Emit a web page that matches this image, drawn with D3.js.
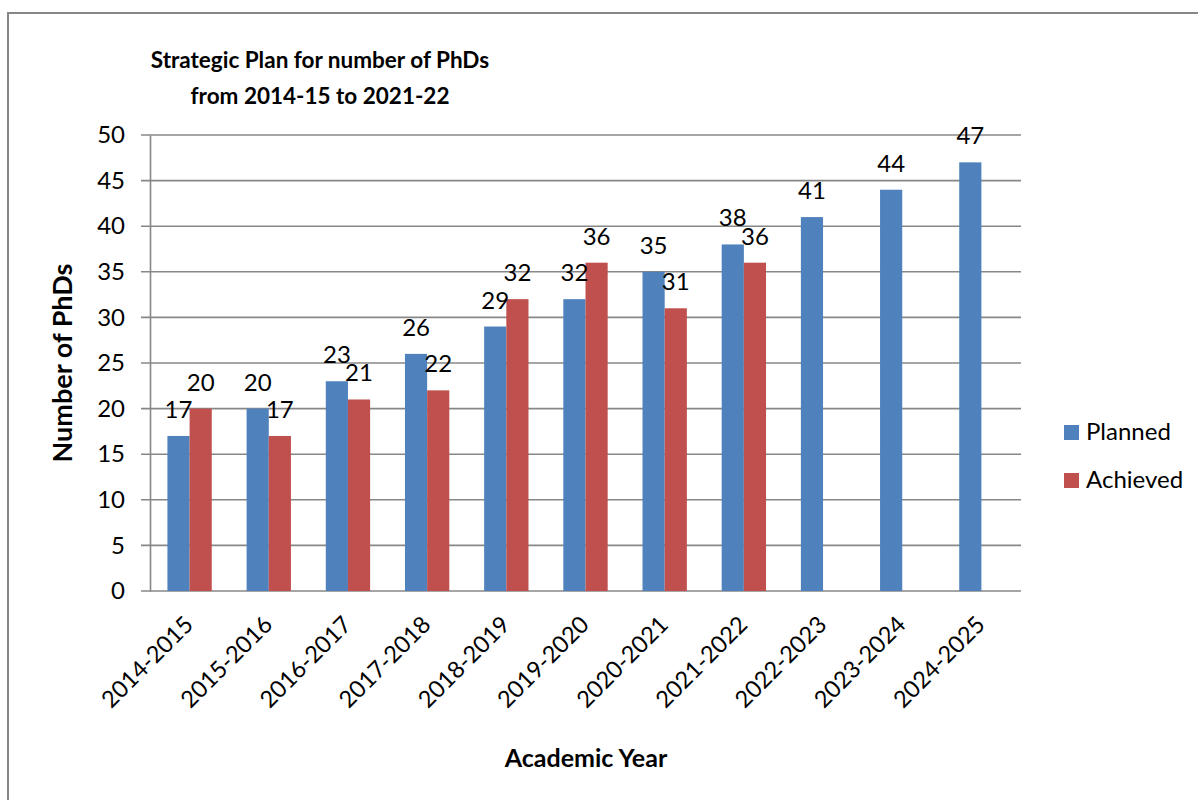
<!DOCTYPE html>
<html>
<head>
<meta charset="utf-8">
<script src="https://cdn.jsdelivr.net/npm/d3@7"></script>
<style>
  html, body { margin: 0; padding: 0; background: #fff; }
  svg { display: block; }
  text { font-family: Lato, "Open Sans", sans-serif; fill: #000; }
</style>
</head>
<body>
<svg id="chart" width="1198" height="800"></svg>
<script>
const categories = ["2014-2015","2015-2016","2016-2017","2017-2018","2018-2019","2019-2020","2020-2021","2021-2022","2022-2023","2023-2024","2024-2025"];
const planned = [17, 20, 23, 26, 29, 32, 35, 38, 41, 44, 47];
const achieved = [20, 17, 21, 22, 32, 36, 31, 36, null, null, null];
const seriesNames = ["Planned", "Achieved"];
const seriesColors = ["#4F81BD", "#C0504D"];
const yTicks = [0, 5, 10, 15, 20, 25, 30, 35, 40, 45, 50];
const titleLines = ["Strategic Plan for number of PhDs", "from 2014-15 to 2021-22"];
const xTitle = "Academic Year";
const yTitle = "Number of PhDs";

const svg = d3.select("#chart");
const gridColor = "#878787";

// outer border
svg.append("rect").attr("x", 8).attr("y", 13).attr("width", 1300).attr("height", 900)
  .attr("fill", "none").attr("stroke", gridColor).attr("stroke-width", 2);

const plotLeft = 150, plotRight = 1021, plotTop = 135, plotBottom = 591;

const x0 = d3.scaleBand().domain(categories).range([plotLeft, plotRight])
  .paddingInner(0.44).paddingOuter(0.22);
const x1 = d3.scaleBand().domain(seriesNames).range([0, x0.bandwidth()]);
const y = d3.scaleLinear().domain([0, 50]).range([plotBottom, plotTop]);

// gridlines
svg.append("g").selectAll("line").data(yTicks).join("line")
  .attr("x1", plotLeft - 9).attr("x2", plotRight)
  .attr("y1", d => y(d)).attr("y2", d => y(d))
  .attr("stroke", gridColor).attr("stroke-width", 1.6);

// y axis
const yAxis = d3.axisLeft(y).tickValues(yTicks).tickSize(0).tickPadding(25);
const gy = svg.append("g").attr("transform", `translate(${plotLeft},0)`).call(yAxis);
gy.select(".domain").attr("stroke", gridColor).attr("stroke-width", 1.6);
gy.selectAll("text").style("font-family", "Lato, 'Open Sans', sans-serif")
  .style("font-size", "24px").attr("fill", "#000");

// bars
const data = categories.map((c, i) => ({ cat: c, vals: [planned[i], achieved[i]] }));
const groups = svg.append("g").selectAll("g").data(data).join("g")
  .attr("transform", d => `translate(${x0(d.cat)},0)`);
groups.selectAll("rect")
  .data(d => d.vals.map((v, j) => ({ v, s: seriesNames[j], j })).filter(e => e.v != null))
  .join("rect")
  .attr("x", e => x1(e.s))
  .attr("width", x1.bandwidth())
  .attr("y", e => y(e.v))
  .attr("height", e => y(0) - y(e.v))
  .attr("fill", e => seriesColors[e.j]);

// data labels
groups.selectAll("text")
  .data(d => d.vals.map((v, j) => ({ v, s: seriesNames[j], j })).filter(e => e.v != null))
  .join("text")
  .attr("x", e => x1(e.s) + x1.bandwidth() / 2)
  .attr("y", e => y(e.v) - 18)
  .attr("text-anchor", "middle")
  .style("font-size", "24px")
  .text(e => e.v);

// x axis labels
const xAxis = d3.axisBottom(x0).tickSize(0).tickPadding(0);
const gx = svg.append("g").attr("transform", `translate(0,${plotBottom})`).call(xAxis);
gx.select(".domain").remove();
gx.selectAll("text")
  .style("font-family", "Lato, 'Open Sans', sans-serif")
  .style("font-size", "23.5px").attr("fill", "#000")
  .attr("text-anchor", "end")
  .attr("dy", null).attr("y", 0).attr("x", 0)
  .attr("transform", "translate(5,35) rotate(-45)");

// titles
svg.append("text").attr("x", 320).attr("y", 68).attr("text-anchor", "middle")
  .style("font-size", "22.5px").style("font-weight", "bold").text(titleLines[0]);
svg.append("text").attr("x", 320).attr("y", 104).attr("text-anchor", "middle")
  .style("font-size", "22.5px").style("font-weight", "bold").text(titleLines[1]);

svg.append("text").attr("x", 586).attr("y", 767).attr("text-anchor", "middle")
  .style("font-size", "25px").style("font-weight", "bold").text(xTitle);

svg.append("text").attr("transform", "translate(72,363) rotate(-90)").attr("text-anchor", "middle")
  .style("font-size", "27px").style("font-weight", "bold").text(yTitle);

// legend
const legend = svg.append("g").selectAll("g").data(seriesNames).join("g")
  .attr("transform", (d, i) => `translate(1064,${425 + i * 48})`);
legend.append("rect").attr("width", 15).attr("height", 15).attr("fill", (d, i) => seriesColors[i]);
legend.append("text").attr("x", 22).attr("y", 15).style("font-size", "24px").text(d => d);
</script>
</body>
</html>
